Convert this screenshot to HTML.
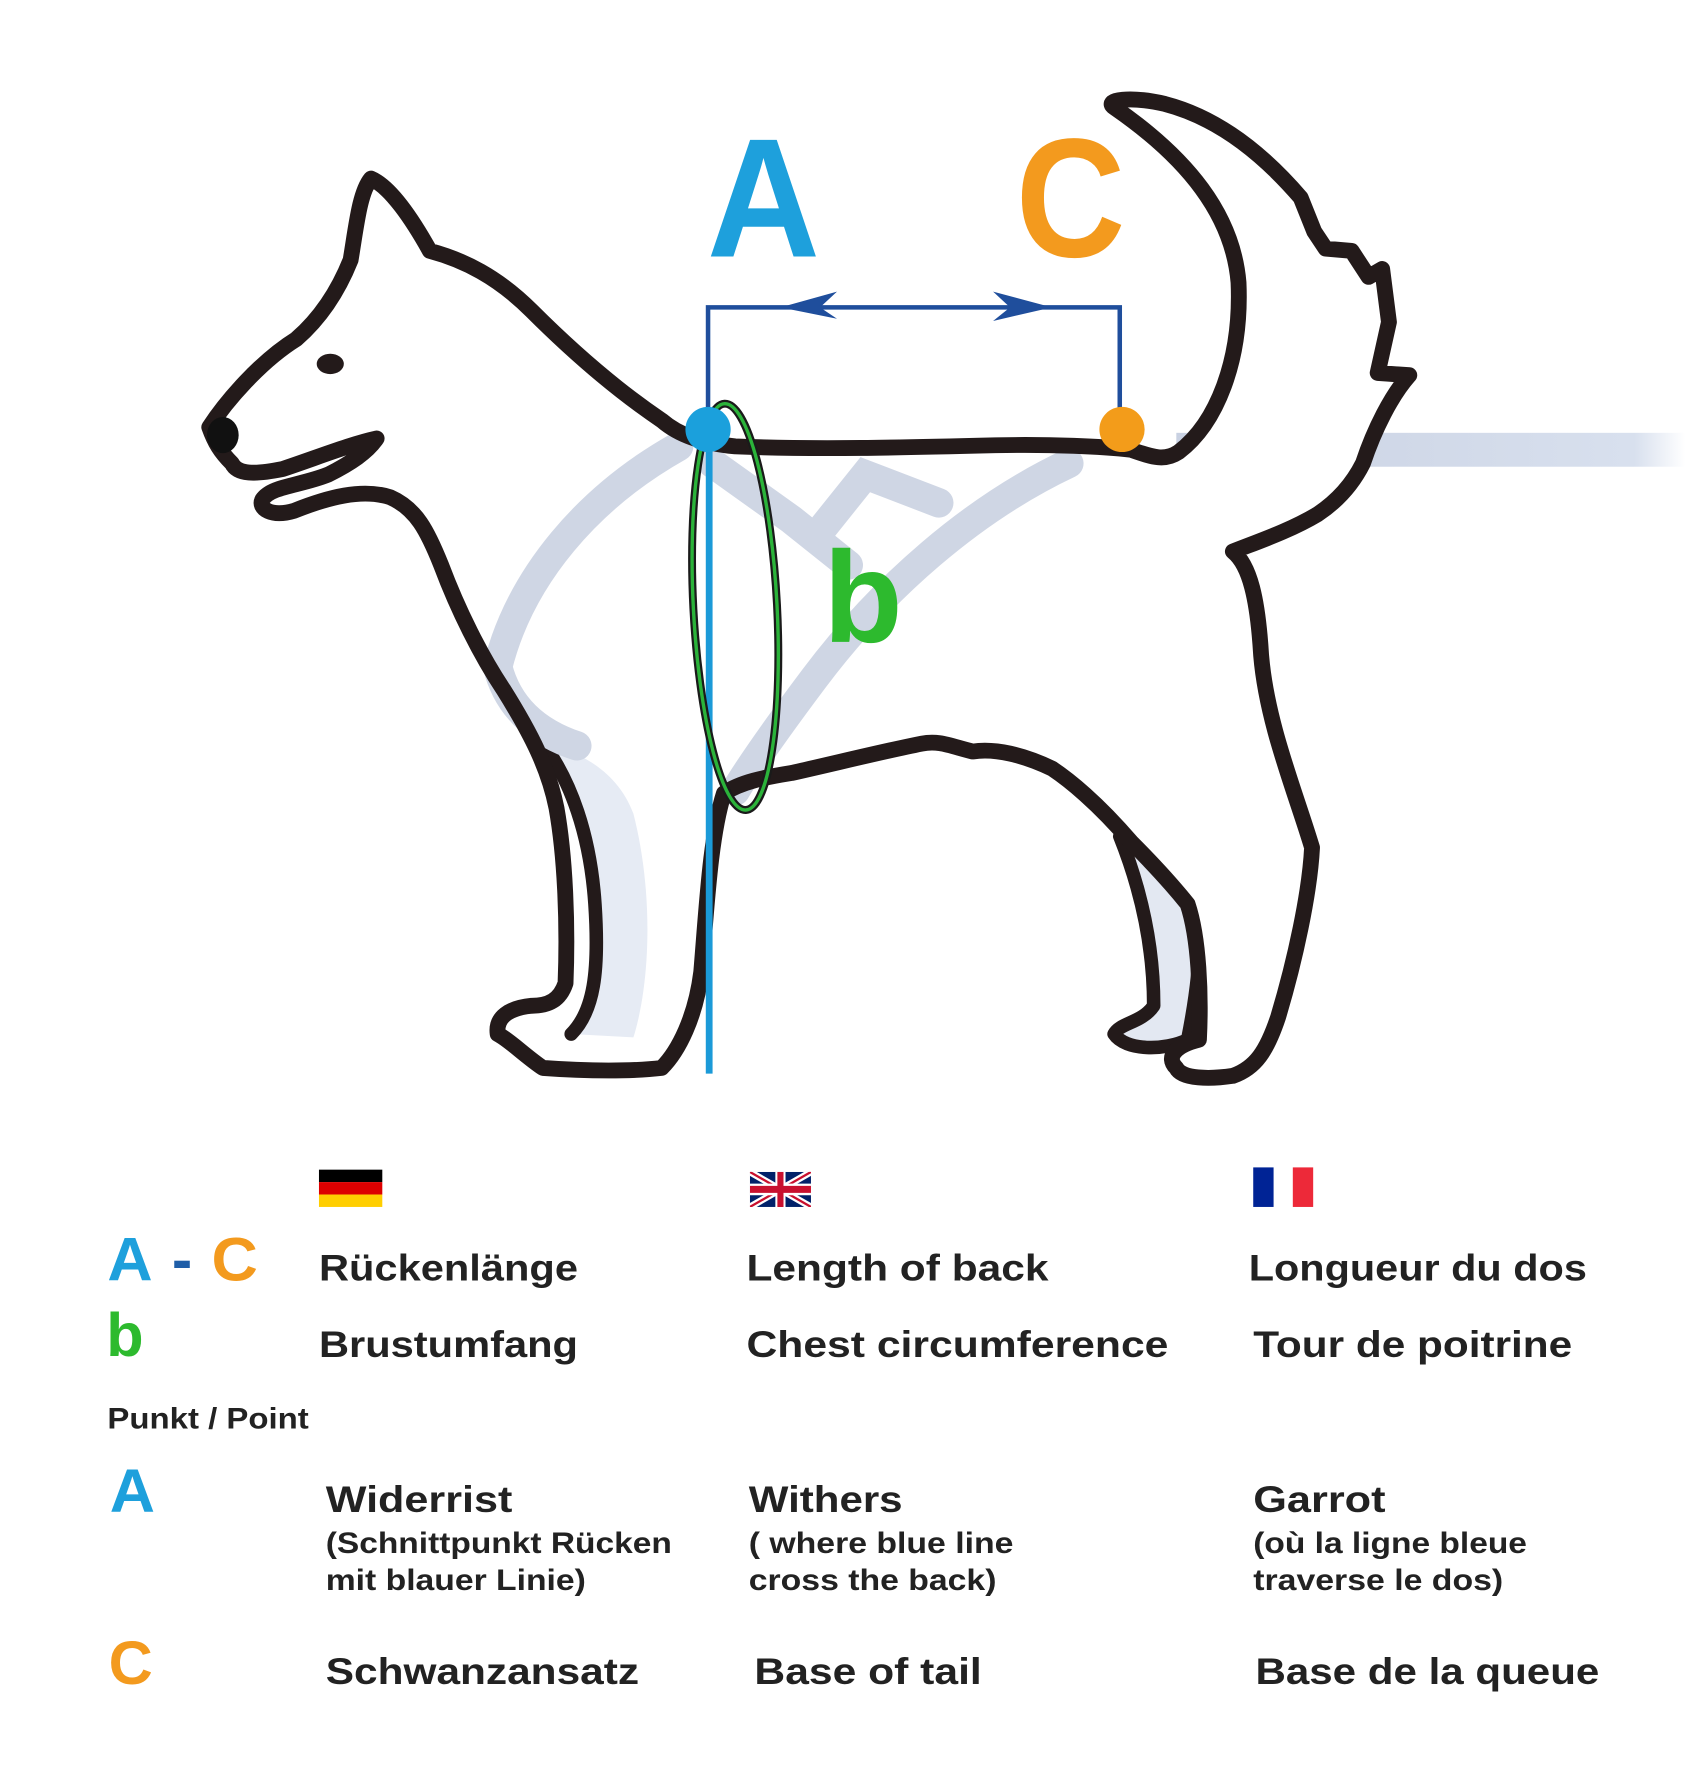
<!DOCTYPE html>
<html><head><meta charset="utf-8"><style>
html,body{margin:0;padding:0;background:#fff;}
svg{display:block;}
text{font-family:"Liberation Sans","DejaVu Sans",sans-serif;font-weight:bold;}
</style></head><body>
<svg width="1700" height="1772" viewBox="0 0 1503 1568" preserveAspectRatio="none" xmlns="http://www.w3.org/2000/svg">
<defs>
<linearGradient id="lg" x1="0" x2="1"><stop offset="0" stop-color="#c9d1e2"/><stop offset="0.9" stop-color="#d8e0ee"/><stop offset="1" stop-color="#fff"/></linearGradient>
<path id="dog" d="M185 378 C200 355 230 320 262 300 C285 280 300 255 310 230 C315 200 318 170 328 158 C345 165 365 195 380 222 C410 230 440 245 470 275 C505 310 545 345 585 372 C600 385 620 392 650 395 C720 398 800 396 880 394 C930 393 975 395 1000 398 C1020 405 1030 408 1042 400 C1075 375 1098 320 1095 250 C1090 190 1050 140 985 95 C975 88 1000 85 1030 92 C1080 105 1120 140 1150 175 L1162 205 L1172 220 L1195 222 L1210 245 L1222 238 L1228 285 L1218 330 L1246 332 C1230 350 1215 380 1205 410 C1195 430 1180 445 1165 455 C1140 470 1110 480 1090 488 C1105 500 1112 530 1115 580 C1120 640 1145 700 1160 750 C1158 790 1145 850 1130 900 C1120 930 1110 945 1090 952 C1070 955 1045 955 1040 945 C1030 935 1040 925 1060 920 C1062 880 1060 830 1050 800 C1030 775 1010 755 1000 745 C970 710 945 690 930 680 C905 668 880 662 860 665 C840 660 830 655 815 658 C780 665 740 675 700 684 C675 688 655 692 640 702 C628 740 625 800 620 860 C615 900 600 930 585 945 C560 948 520 948 480 945 C465 935 450 920 440 915 C438 900 450 892 470 890 C485 890 495 885 500 870 C502 820 500 760 492 715 C485 680 470 650 445 610 C425 580 405 540 390 500 C378 470 368 450 345 440 C320 432 290 440 260 452 C240 458 228 450 232 442 C240 430 265 430 290 420 C310 410 325 400 333 388 C310 393 280 405 250 415 C225 420 210 420 205 410 C195 400 190 392 185 378 Z"/>
</defs>
<!-- leash -->
<rect x="1040" y="383" width="450" height="30" fill="url(#lg)"/>
<g stroke="#8a93a8" stroke-width="4" fill="none"><ellipse cx="1105" cy="397" rx="12" ry="9"/><ellipse cx="1135" cy="397" rx="12" ry="8"/></g>
<!-- far back leg -->
<path d="M990 740 C1010 790 1020 840 1020 890 C1010 905 990 905 985 915 C995 930 1030 930 1050 920 C1060 870 1065 820 1055 790 C1035 765 1010 750 990 740 Z" fill="#e3e8f2" stroke="#231a1a" stroke-width="12" stroke-linejoin="round"/>
<!-- dog fill -->
<use href="#dog" fill="#fff"/>
<!-- far front leg strip -->
<path d="M478 655 C505 690 522 740 526 800 C530 860 525 895 505 915 L560 918 C575 870 578 790 560 720 C545 680 510 665 478 655 Z" fill="#e6ebf4"/>
<path d="M478 655 C505 690 522 740 526 800 C530 860 525 895 505 915" fill="none" stroke="#231a1a" stroke-width="12" stroke-linecap="round"/>
<!-- harness straps -->
<g stroke="#cfd6e4" stroke-width="26" fill="none" stroke-linecap="round">
<path d="M600 395 C520 440 460 510 440 590 C450 630 480 650 510 660"/>
<path d="M945 410 C860 450 780 520 720 600 C690 640 665 675 650 700"/>
<path d="M630 410 L700 460 L750 500"/>
<path d="M725 470 L765 420 L830 445"/>
</g>
<use href="#dog" fill="none" stroke="#231a1a" stroke-width="14" stroke-linejoin="round" stroke-linecap="round"/>
<ellipse cx="292" cy="322" rx="12" ry="9" fill="#231a1a"/>
<ellipse cx="197" cy="385" rx="14" ry="16" fill="#111"/>
<!-- bracket -->
<g stroke="#1f4e9c" stroke-width="4" fill="none"><path d="M626 380 V272 H990 V372"/></g>
<path d="M690 272 L740 258 L725 272 L740 282 Z" fill="#1f4e9c"/>
<path d="M930 272 L878 258 L893 272 L878 284 Z" fill="#1f4e9c"/>
<!-- blue vertical -->
<line x1="627" y1="380" x2="627" y2="950" stroke="#1b9ad8" stroke-width="6"/>
<ellipse cx="650" cy="537" rx="37" ry="180" fill="none" stroke="#1a1a1a" stroke-width="7" transform="rotate(-3 650 537)"/>
<ellipse cx="650" cy="537" rx="37" ry="180" fill="none" stroke="#2bb33a" stroke-width="3" transform="rotate(-3 650 537)"/>
<circle cx="626" cy="380" r="20" fill="#1ba0dc"/>
<circle cx="992" cy="380" r="20" fill="#f39c1a"/>
<text x="625" y="227" font-size="150" fill="#1ea0dc" textLength="100" lengthAdjust="spacingAndGlyphs">A</text>
<text x="898" y="227" font-size="150" fill="#f39a1e" textLength="97" lengthAdjust="spacingAndGlyphs">C</text>
<text x="728" y="568" font-size="115" fill="#2dba2e" textLength="70" lengthAdjust="spacingAndGlyphs">b</text>
<!-- flags -->
<rect x="282" y="1035" width="56" height="11" fill="#000"/><rect x="282" y="1046" width="56" height="11" fill="#dd0000"/><rect x="282" y="1057" width="56" height="11" fill="#ffce00"/>
<svg x="663" y="1037" width="54" height="31" viewBox="0 0 60 30" preserveAspectRatio="none">
<rect width="60" height="30" fill="#012169"/><path d="M0 0 L60 30 M60 0 L0 30" stroke="#fff" stroke-width="6"/><path d="M0 0 L60 30 M60 0 L0 30" stroke="#c8102e" stroke-width="2"/><path d="M30 0 V30 M0 15 H60" stroke="#fff" stroke-width="10"/><path d="M30 0 V30 M0 15 H60" stroke="#c8102e" stroke-width="6"/></svg>
<rect x="1108" y="1033" width="18" height="35" fill="#002395"/><rect x="1143" y="1033" width="18" height="35" fill="#ed2939"/>
<!-- legend -->
<g font-size="33" fill="#222">
<text x="282" y="1133" textLength="229" lengthAdjust="spacingAndGlyphs">Rückenlänge</text>
<text x="660" y="1133" textLength="267" lengthAdjust="spacingAndGlyphs">Length of back</text>
<text x="1104" y="1133" textLength="299" lengthAdjust="spacingAndGlyphs">Longueur du dos</text>
<text x="282" y="1201" textLength="229" lengthAdjust="spacingAndGlyphs">Brustumfang</text>
<text x="660" y="1201" textLength="373" lengthAdjust="spacingAndGlyphs">Chest circumference</text>
<text x="1108" y="1201" textLength="282" lengthAdjust="spacingAndGlyphs">Tour de poitrine</text>
<text x="288" y="1338" textLength="165" lengthAdjust="spacingAndGlyphs">Widerrist</text>
<text x="662" y="1338" textLength="136" lengthAdjust="spacingAndGlyphs">Withers</text>
<text x="1108" y="1338" textLength="117" lengthAdjust="spacingAndGlyphs">Garrot</text>
<text x="288" y="1490" textLength="277" lengthAdjust="spacingAndGlyphs">Schwanzansatz</text>
<text x="667" y="1490" textLength="201" lengthAdjust="spacingAndGlyphs">Base of tail</text>
<text x="1110" y="1490" textLength="304" lengthAdjust="spacingAndGlyphs">Base de la queue</text>
</g>
<g font-size="26" fill="#222">
<text x="95" y="1264" textLength="178" lengthAdjust="spacingAndGlyphs">Punkt / Point</text>
<text x="288" y="1374" textLength="306" lengthAdjust="spacingAndGlyphs">(Schnittpunkt Rücken</text>
<text x="288" y="1407" textLength="230" lengthAdjust="spacingAndGlyphs">mit blauer Linie)</text>
<text x="662" y="1374" textLength="234" lengthAdjust="spacingAndGlyphs">( where blue line</text>
<text x="662" y="1407" textLength="219" lengthAdjust="spacingAndGlyphs">cross the back)</text>
<text x="1108" y="1374" textLength="242" lengthAdjust="spacingAndGlyphs">(où la ligne bleue</text>
<text x="1108" y="1407" textLength="221" lengthAdjust="spacingAndGlyphs">traverse le dos)</text>
</g>
<g font-size="54" font-weight="normal">
<text x="95" y="1133" fill="#1ea0dc" textLength="40" lengthAdjust="spacingAndGlyphs">A</text>
<text x="152" y="1133" fill="#1f5ea8" textLength="18" lengthAdjust="spacingAndGlyphs">-</text>
<text x="187" y="1133" fill="#f39a1e" textLength="41" lengthAdjust="spacingAndGlyphs">C</text>
<text x="94" y="1200" fill="#2dba2e" textLength="33" lengthAdjust="spacingAndGlyphs">b</text>
<text x="97" y="1338" fill="#1ea0dc" textLength="40" lengthAdjust="spacingAndGlyphs">A</text>
<text x="96" y="1490" fill="#f39a1e" textLength="39" lengthAdjust="spacingAndGlyphs">C</text>
</g>
</svg>
</body></html>
